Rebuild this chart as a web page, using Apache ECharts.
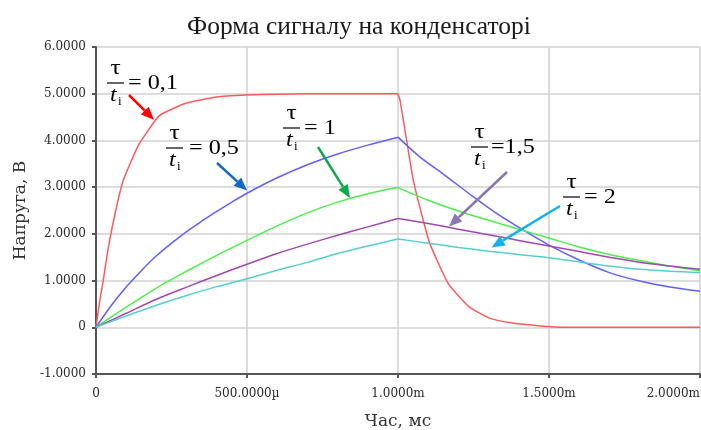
<!DOCTYPE html>
<html>
<head>
<meta charset="utf-8">
<script src="https://cdn.jsdelivr.net/npm/echarts@6/dist/echarts.min.js"></script>
<style>
  html, body { margin: 0; padding: 0; background: #ffffff; }
  #chart { width: 701px; height: 430px; }
</style>
</head>
<body>
<div id="chart"></div>
<script>
// Capacitor voltage for a 1 ms, 5 V rectangular pulse; time in ms, voltage in V.

// Axis ticks
const xTicks = [0, 0.5, 1, 1.5, 2];
const xTickLabels = ['0', '500.0000µ', '1.0000m', '1.5000m', '2.0000m'];
const yTicks = [-1, 0, 1, 2, 3, 4, 5, 6];
const yTickLabels = ['-1.0000', '0', '1.0000', '2.0000', '3.0000', '4.0000', '5.0000', '6.0000'];

// End of the pulse, ms
const pulseEnd = 1.0;

// τ/tі = 0,1
const redTime = [0, 0.012, 0.024, 0.041, 0.063, 0.09, 0.14, 0.21, 0.30, 0.40, 0.50, 0.60, 0.70, 0.85, 1.0,
                 1.007, 1.051, 1.084, 1.106, 1.167, 1.237, 1.305, 1.38, 1.47, 1.55, 1.7, 1.85, 2.0];
const redVolt = [0, 0.55, 1.0, 1.71, 2.43, 3.14, 3.89, 4.53, 4.80, 4.93, 4.97, 4.99, 5.0, 5.0, 5.0,
                 4.85, 3.14, 2.28, 1.78, 0.93, 0.43, 0.19, 0.09, 0.03, 0.0, 0.0, 0.0, 0.0];

// τ/tі = 0,5
const blueTime = [0, 0.05, 0.1, 0.15, 0.2, 0.25, 0.3, 0.35, 0.4, 0.45, 0.5, 0.6, 0.7, 0.8, 0.9, 1.0,
                  1.07, 1.15, 1.25, 1.33, 1.42, 1.5, 1.6, 1.7, 1.8, 1.9, 2.0];
const blueVolt = [0, 0.46, 0.86, 1.21, 1.53, 1.80, 2.05, 2.27, 2.48, 2.68, 2.87, 3.20, 3.48, 3.71, 3.90, 4.07,
                  3.66, 3.28, 2.79, 2.42, 2.06, 1.76, 1.44, 1.17, 0.99, 0.86, 0.77];

// Shared sampling for the slower curves
const slowTime = [0, 0.1, 0.2, 0.3, 0.4, 0.5, 0.6, 0.7, 0.8, 0.9, 1.0,
                  1.1, 1.2, 1.3, 1.4, 1.5, 1.6, 1.7, 1.8, 1.9, 2.0];
// τ/tі = 1
const greenVolt = [0, 0.43, 0.84, 1.20, 1.54, 1.86, 2.17, 2.45, 2.68, 2.86, 2.99,
                   2.72, 2.49, 2.29, 2.10, 1.91, 1.72, 1.56, 1.43, 1.31, 1.21];
// τ/tі = 1,5
const purpleVolt = [0, 0.30, 0.60, 0.86, 1.11, 1.35, 1.58, 1.78, 1.97, 2.15, 2.33,
                    2.22, 2.10, 1.98, 1.86, 1.74, 1.62, 1.50, 1.39, 1.31, 1.24];
// τ/tі = 2
const cyanVolt = [0, 0.24, 0.47, 0.68, 0.87, 1.04, 1.22, 1.39, 1.58, 1.74, 1.89,
                  1.80, 1.71, 1.63, 1.56, 1.49, 1.40, 1.31, 1.24, 1.20, 1.17];

// Ratio labels and the curve point each arrow points at (data coordinates)
const ratioLabels = ['0,1', '0,5', '1', '1,5', '2'];
const arrowTips = [[0.192, 4.44], [0.50, 2.93], [0.841, 2.77], [1.169, 2.16], [1.31, 1.71]];

const pairs = (t, v) => t.map((x, i) => [x, v[i]]);

const curves = [
  { t: redTime,  v: redVolt,    color: '#ff5a5a', smooth: 0.15 },
  { t: blueTime, v: blueVolt,   color: '#6060ff', smooth: 0.3 },
  { t: slowTime, v: greenVolt,  color: '#4cee4c', smooth: 0.3 },
  { t: slowTime, v: purpleVolt, color: '#a048b0', smooth: 0.3 },
  { t: slowTime, v: cyanVolt,   color: '#55d0d0', smooth: 0.3 }
];

// Annotation layout (pixels): fraction bar left end / height, "=" start, arrow tail
const noteLayout = [
  { barX: 107, barY: 83,  eqX: 128, tail: [129, 95],  color: '#ff0000', eq: '= ' },
  { barX: 166, barY: 148, eqX: 189, tail: [217, 163], color: '#1268c0', eq: '= ' },
  { barX: 283, barY: 128, eqX: 304, tail: [318, 147], color: '#10a84c', eq: '= ' },
  { barX: 471, barY: 147, eqX: 491, tail: [507, 172], color: '#8a76b2', eq: '=' },
  { barX: 563, barY: 197, eqX: 584, tail: [560, 206], color: '#12b2ee', eq: '= ' }
];

const SERIF = '"Liberation Serif", "Times New Roman", serif';
const LABEL_FONT = '"DejaVu Serif", serif';

const findLabel = (ticks, labels, v) => {
  for (let i = 0; i < ticks.length; i++) if (Math.abs(ticks[i] - v) < 1e-9) return labels[i];
  return '';
};

// Each curve is drawn as a charging part and a discharging part so the corner at the pulse end stays sharp
const lineSeries = [];
curves.forEach(c => {
  const pts = pairs(c.t, c.v);
  const cut = c.t.findIndex(x => Math.abs(x - pulseEnd) < 1e-9);
  [pts.slice(0, cut + 1), pts.slice(cut)].forEach(part => {
    lineSeries.push({
      type: 'line',
      data: part,
      showSymbol: false,
      smooth: c.smooth,
      lineStyle: { color: c.color, width: 1.5 },
      itemStyle: { color: c.color },
      z: 3
    });
  });
});

const chart = echarts.init(document.getElementById('chart'), null, { renderer: 'canvas' });

chart.setOption({
  animation: false,
  backgroundColor: '#ffffff',
  title: {
    text: 'Форма сигналу на конденсаторі',
    left: 182,
    top: 9,
    textStyle: { fontFamily: SERIF, fontSize: 25.5, fontWeight: 'normal', color: '#1a1a1a' }
  },
  grid: { left: 96, right: 1, top: 47, bottom: 56, containLabel: false, outerBoundsMode: 'none' },
  xAxis: {
    type: 'value',
    min: 0, max: 2, interval: 0.5,
    name: 'Час, мс',
    nameLocation: 'middle',
    nameGap: 39,
    nameTextStyle: { fontFamily: LABEL_FONT, fontSize: 17, color: '#333' },
    axisLine: { show: true, onZero: false, lineStyle: { color: '#555', width: 2 } },
    axisTick: { show: true, length: 4, lineStyle: { color: '#555', width: 2 } },
    axisLabel: {
      margin: 14, showMinLabel: true, showMaxLabel: true, alignMaxLabel: 'right',
      fontFamily: LABEL_FONT, fontSize: 12, color: '#2a2a2a',
      formatter: v => findLabel(xTicks, xTickLabels, v)
    },
    splitLine: { show: true, lineStyle: { color: '#d2d2d2', width: 1.6 } }
  },
  yAxis: {
    type: 'value',
    min: -1, max: 6, interval: 1,
    name: 'Напруга, В',
    nameLocation: 'middle',
    nameGap: 63,
    nameTextStyle: { fontFamily: LABEL_FONT, fontSize: 17, color: '#333' },
    axisLine: { show: true, lineStyle: { color: '#555', width: 2 } },
    axisTick: { show: true, length: 4, lineStyle: { color: '#555', width: 2 } },
    axisLabel: {
      margin: 10,
      fontFamily: LABEL_FONT, fontSize: 12, color: '#2a2a2a',
      formatter: v => findLabel(yTicks, yTickLabels, v)
    },
    splitLine: { show: true, lineStyle: { color: '#d2d2d2', width: 1.6 } }
  },
  series: lineSeries
});

// Fraction labels τ / tі = value with an arrow towards each curve
const graphics = [];
noteLayout.forEach((n, k) => {
  const B = n.barY, L = n.barX;
  graphics.push(
    { type: 'text', x: L + 8.5, y: B - 15, scaleX: 1.15, z: 10,
      style: { text: 'τ', font: '22px ' + SERIF, fill: '#000', align: 'center', verticalAlign: 'middle' } },
    { type: 'line', z: 10, shape: { x1: L, y1: B, x2: L + 17, y2: B }, style: { stroke: '#000', lineWidth: 1.2 } },
    { type: 'text', x: L + 3, y: B + 12, scaleX: 1.15, z: 10,
      style: { text: 't', font: 'italic 21px ' + SERIF, fill: '#000', align: 'left', verticalAlign: 'middle' } },
    { type: 'text', x: L + 11, y: B + 19, z: 10,
      style: { text: 'і', font: '13px ' + SERIF, fill: '#000', align: 'left', verticalAlign: 'middle' } },
    { type: 'text', x: n.eqX, y: B, scaleX: 1.15, z: 10,
      style: { text: n.eq + ratioLabels[k], font: '21px ' + SERIF, fill: '#000', align: 'left', verticalAlign: 'middle' } }
  );
  const tip = chart.convertToPixel({ gridIndex: 0 }, arrowTips[k]);
  const dx = tip[0] - n.tail[0], dy = tip[1] - n.tail[1];
  const len = Math.hypot(dx, dy), ux = dx / len, uy = dy / len;
  const headLen = 13, headHalf = 5.5;
  const bx = tip[0] - ux * headLen, by = tip[1] - uy * headLen;
  graphics.push(
    { type: 'line', z: 11, shape: { x1: n.tail[0], y1: n.tail[1], x2: bx, y2: by },
      style: { stroke: n.color, lineWidth: 2.5 } },
    { type: 'polygon', z: 11,
      shape: { points: [[tip[0], tip[1]], [bx - uy * headHalf, by + ux * headHalf], [bx + uy * headHalf, by - ux * headHalf]] },
      style: { fill: n.color } }
  );
});
chart.setOption({ graphic: { elements: graphics } });
</script>
</body>
</html>
